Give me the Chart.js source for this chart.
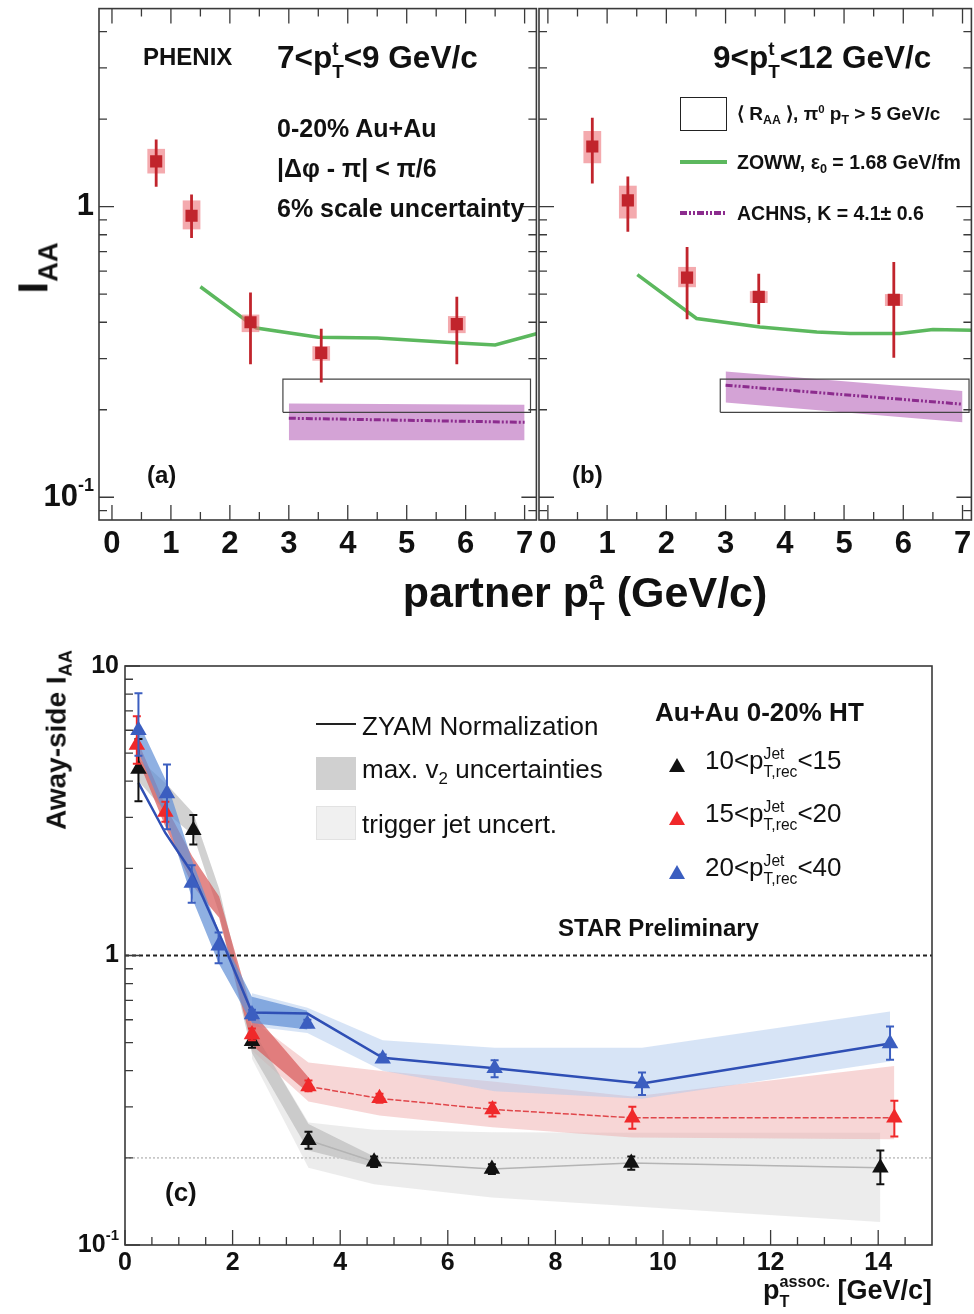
<!DOCTYPE html>
<html>
<head>
<meta charset="utf-8">
<script src="https://cdn.jsdelivr.net/npm/chart.js@4.4.0/dist/chart.umd.min.js"></script>
<style>
html, body { margin: 0; padding: 0; background: #fff; }
#page { position: relative; width: 974px; height: 1314px; overflow: hidden;
  font-family: "Liberation Sans", Arial, sans-serif; color: #111; }
canvas { position: absolute; }
.t { position: absolute; white-space: nowrap; line-height: 1.6; }
.sb { font-size: 0.65em; vertical-align: -0.35em; line-height: 1; }
.sp { font-size: 0.6em; vertical-align: 0.65em; line-height: 1; }
.ss { display: inline-block; vertical-align: -0.5em; font-size: 0.6em; line-height: 1.2; text-align: left; }
.sw { position: absolute; box-sizing: border-box; }
</style>
</head>
<body>
<div id="page">
  <canvas id="ca" width="545" height="560" style="left:0;top:0"></canvas>
  <canvas id="cb" width="480" height="560" style="left:500px;top:0"></canvas>
  <canvas id="cc" width="974" height="674" style="left:0;top:640px"></canvas>
</div>
<script>
// ---------- panel (a): 7 < pT(trig) < 9 GeV/c ----------
const aPt     = [0.75, 1.35, 2.35, 3.55, 5.85];
const aIaa    = [1.43, 0.93, 0.40, 0.314, 0.394];
const aStatLo = [1.17, 0.78, 0.287, 0.248, 0.287];
const aStatHi = [1.70, 1.10, 0.506, 0.38, 0.49];
const aSysLo  = [1.30, 0.835, 0.37, 0.295, 0.367];
const aSysHi  = [1.58, 1.05, 0.425, 0.331, 0.42];
const aZowwPt  = [1.5, 2.45, 3.5, 4.5, 5.8, 6.5, 7.2];
const aZowwIaa = [0.53, 0.382, 0.355, 0.353, 0.34, 0.334, 0.365];
const aAchnsPt  = [3.0, 7.0];
const aAchnsMid = [0.187, 0.181];
const aAchnsLo  = [0.157, 0.157];
const aAchnsHi  = [0.21, 0.208];
const aRaaPt = [2.9, 7.1];
const aRaa   = [0.196, 0.255];

// ---------- panel (b): 9 < pT(trig) < 12 GeV/c ----------
const bPt     = [0.75, 1.35, 2.35, 3.56, 5.84];
const bIaa    = [1.61, 1.05, 0.57, 0.489, 0.478];
const bStatLo = [1.20, 0.82, 0.41, 0.394, 0.302];
const bStatHi = [2.02, 1.27, 0.726, 0.587, 0.645];
const bSysLo  = [1.41, 0.91, 0.528, 0.466, 0.455];
const bSysHi  = [1.82, 1.18, 0.62, 0.512, 0.50];
const bZowwPt  = [1.51, 2.51, 3.58, 4.54, 5.1, 5.94, 6.5, 7.18];
const bZowwIaa = [0.583, 0.412, 0.385, 0.37, 0.366, 0.366, 0.378, 0.375];
const bAchnsPt  = [3.0, 7.0];
const bAchnsMid = [0.243, 0.209];
const bAchnsLo  = [0.212, 0.181];
const bAchnsHi  = [0.271, 0.232];
const bRaaPt = [2.91, 7.11];
const bRaa   = [0.196, 0.255];

// axis ticks, top panels
const abXLabels = [0, 1, 2, 3, 4, 5, 6, 7];
const abXMinor  = [0.5, 1.5, 2.5, 3.5, 4.5, 5.5, 6.5];
const abYMajor  = [0.1, 1];
const abYMinor  = [0.09, 0.2, 0.3, 0.4, 0.5, 0.6, 0.7, 0.8, 0.9, 2, 3, 4];

// ---------- panel (c): STAR away-side I_AA ----------
const cBlackPt  = [0.25, 1.27, 2.36, 3.41, 4.63, 6.82, 9.41, 14.04];
const cBlackIaa = [4.41, 2.71, 0.506, 0.23, 0.194, 0.183, 0.192, 0.185];
const cBlackLo  = [3.41, 2.42, 0.48, 0.215, 0.186, 0.176, 0.182, 0.162];
const cBlackHi  = [5.6, 3.06, 0.53, 0.246, 0.202, 0.19, 0.202, 0.212];

const cRedPt  = [0.22, 0.75, 2.36, 3.41, 4.73, 6.83, 9.43, 14.3];
const cRedIaa = [5.33, 3.13, 0.533, 0.353, 0.321, 0.294, 0.275, 0.275];
const cRedLo  = [4.6, 2.9, 0.51, 0.34, 0.31, 0.278, 0.252, 0.237];
const cRedHi  = [6.7, 3.4, 0.56, 0.37, 0.333, 0.31, 0.30, 0.315];

const cBluePt  = [0.25, 0.78, 1.24, 1.74, 2.36, 3.39, 4.79, 6.87, 9.61, 14.22];
const cBlueIaa = [6.0, 3.63, 1.78, 1.08, 0.625, 0.58, 0.44, 0.408, 0.361, 0.497];
const cBlueLo  = [4.9, 2.73, 1.52, 0.94, 0.6, 0.565, 0.43, 0.38, 0.33, 0.436];
const cBlueHi  = [8.05, 4.57, 2.05, 1.2, 0.65, 0.6, 0.455, 0.435, 0.394, 0.568];

// ZYAM normalization curves
const cBlueLinePt  = [0.25, 0.75, 1.24, 1.74, 2.36, 3.39, 4.79, 6.87, 9.61, 14.22];
const cBlueLineIaa = [3.95, 2.65, 1.94, 1.2, 0.636, 0.63, 0.443, 0.408, 0.361, 0.497];
const cRedLinePt   = [3.41, 4.73, 6.83, 9.43, 14.3];
const cRedLineIaa  = [0.353, 0.321, 0.294, 0.275, 0.275];
const cGrayLinePt  = [3.41, 4.63, 6.82, 9.41, 14.04];
const cGrayLineIaa = [0.23, 0.194, 0.183, 0.192, 0.185];

// max. v2 uncertainty bands
const cBlueSysPt = [0.25, 0.78, 1.24, 1.74, 2.36, 3.39];
const cBlueSysLo = [5.05, 2.94, 1.59, 0.94, 0.585, 0.555];
const cBlueSysHi = [6.4, 3.95, 2.15, 1.22, 0.72, 0.645];
const cRedSysPt  = [0.22, 0.75, 1.25, 1.75, 2.36, 3.41];
const cRedSysLo  = [4.85, 2.79, 1.75, 1.35, 0.49, 0.335];
const cRedSysHi  = [5.6, 3.3, 2.2, 1.6, 0.64, 0.38];
const cGraySysPt = [0.25, 0.78, 1.27, 1.75, 2.36, 3.41, 4.63];
const cGraySysLo = [4.0, 3.1, 2.6, 1.4, 0.46, 0.212, 0.186];
const cGraySysHi = [4.8, 3.9, 3.1, 1.7, 0.56, 0.262, 0.202];

// trigger jet uncertainty bands
const cBlueJetPt = [2.36, 3.39, 4.79, 6.87, 9.61, 14.22];
const cBlueJetLo = [0.57, 0.54, 0.40, 0.34, 0.32, 0.43];
const cBlueJetHi = [0.74, 0.66, 0.51, 0.48, 0.48, 0.64];
const cRedJetPt  = [2.36, 3.41, 4.73, 6.83, 9.43, 14.3];
const cRedJetLo  = [0.47, 0.313, 0.28, 0.255, 0.235, 0.232];
const cRedJetHi  = [0.6, 0.427, 0.40, 0.367, 0.326, 0.415];
const cGrayJetPt = [2.36, 3.41, 4.63, 6.82, 9.41, 14.04];
const cGrayJetLo = [0.44, 0.185, 0.162, 0.146, 0.136, 0.12];
const cGrayJetHi = [0.56, 0.265, 0.25, 0.245, 0.244, 0.244];

const cRefPt = [0, 15];
const cUnity = [1, 1];
const cFifth = [0.2, 0.2];

// axis ticks, bottom panel
const cXLabels = [0, 2, 4, 6, 8, 10, 12, 14];
const cXMinor  = [0.5, 1, 1.5, 2.5, 3, 3.5, 4.5, 5, 5.5, 6.5, 7, 7.5, 8.5, 9, 9.5,
                  10.5, 11, 11.5, 12.5, 13, 13.5, 14.5];
const cYMajor  = [0.1, 1, 10];
const cYMinor  = [0.2, 0.3, 0.4, 0.5, 0.6, 0.7, 0.8, 0.9, 2, 3, 4, 5, 6, 7, 8, 9];

const FONT = '"Liberation Sans", Arial, sans-serif';
const RED = '#c1242c', PINK = 'rgba(238,118,124,0.62)';
const GREEN = '#5cb85e', PURPLE = '#8c2c8e', LILAC = 'rgba(196,128,198,0.72)';

Chart.defaults.font.family = FONT;

const pts = (xs, ys) => xs.map((x, i) => ({ x, y: ys[i] }));
const line = (xs, ys, color, width, dash) => ({
  data: pts(xs, ys), borderColor: color, borderWidth: width, borderDash: dash || [], fill: false
});
const band = (xs, lo, hi, color) => [
  { data: pts(xs, lo), borderWidth: 0, fill: false },
  { data: pts(xs, hi), borderWidth: 0, fill: '-1', backgroundColor: color }
];
const box = (xs, ys) => ({
  data: [{ x: xs[0], y: ys[0] }, { x: xs[0], y: ys[1] }, { x: xs[1], y: ys[1] },
         { x: xs[1], y: ys[0] }, { x: xs[0], y: ys[0] }],
  borderColor: '#444', borderWidth: 1.2, fill: false
});

// error bars and systematic boxes, drawn just under the markers
const errorBars = {
  id: 'errorBars',
  beforeDatasetDraw(chart, args) {
    const ds = chart.data.datasets[args.index];
    if (!ds.errLo) return;
    const { ctx, chartArea: a, scales: { x, y } } = chart;
    ctx.save();
    ctx.beginPath();
    ctx.rect(a.left, a.top, a.width, a.height);
    ctx.clip();
    ds.data.forEach((p, i) => {
      const px = x.getPixelForValue(p.x);
      if (ds.sysLo) {
        const x0 = x.getPixelForValue(p.x - ds.sysHalf);
        const x1 = x.getPixelForValue(p.x + ds.sysHalf);
        const y0 = y.getPixelForValue(ds.sysHi[i]);
        const y1 = y.getPixelForValue(ds.sysLo[i]);
        ctx.fillStyle = ds.sysColor;
        ctx.fillRect(x0, y0, x1 - x0, y1 - y0);
      }
      const yl = y.getPixelForValue(ds.errLo[i]);
      const yh = y.getPixelForValue(ds.errHi[i]);
      ctx.strokeStyle = ds.errColor;
      ctx.lineWidth = ds.errWidth;
      ctx.beginPath();
      ctx.moveTo(px, yl);
      ctx.lineTo(px, yh);
      if (ds.cap) {
        ctx.moveTo(px - ds.cap, yl); ctx.lineTo(px + ds.cap, yl);
        ctx.moveTo(px - ds.cap, yh); ctx.lineTo(px + ds.cap, yh);
      }
      ctx.stroke();
    });
    ctx.restore();
  }
};

// ROOT-like frame: inward ticks and 10^n labels on the log axis
function rootFrame(t) {
  return {
    id: 'rootFrame',
    afterDraw(chart) {
      const { ctx, chartArea: a, scales: { x, y } } = chart;
      ctx.save();
      ctx.strokeStyle = '#3a3a3a';
      ctx.lineWidth = 1.3;
      ctx.beginPath();
      const xt = (v, len) => {
        const p = x.getPixelForValue(v);
        ctx.moveTo(p, a.bottom); ctx.lineTo(p, a.bottom - len);
        if (t.mirror) { ctx.moveTo(p, a.top); ctx.lineTo(p, a.top + len); }
      };
      const yt = (v, len) => {
        const p = y.getPixelForValue(v);
        ctx.moveTo(a.left, p); ctx.lineTo(a.left + len, p);
        if (t.mirror) { ctx.moveTo(a.right, p); ctx.lineTo(a.right - len, p); }
      };
      t.xMajor.forEach(v => xt(v, t.major));
      t.xMinor.forEach(v => xt(v, t.minor));
      t.yMajor.forEach(v => yt(v, t.major));
      t.yMinor.forEach(v => yt(v, t.minor));
      ctx.stroke();
      ctx.lineWidth = 1.6;
      ctx.strokeRect(a.left, a.top, a.right - a.left, a.bottom - a.top);

      ctx.fillStyle = '#111';
      ctx.textBaseline = 'middle';
      ctx.textAlign = 'right';
      t.yLabels.forEach(v => {
        const py = y.getPixelForValue(v);
        const xr = a.left - t.gap;
        if (v < 1) {
          ctx.font = `bold ${t.supSize}px ${FONT}`;
          ctx.fillText('-1', xr, py - t.supRise);
          const w = ctx.measureText('-1').width;
          ctx.font = `bold ${t.size}px ${FONT}`;
          ctx.fillText('10', xr - w, py);
        } else {
          ctx.font = `bold ${t.size}px ${FONT}`;
          ctx.fillText(String(v), xr, py);
        }
      });
      ctx.restore();
    }
  };
}

function scalesFor(o) {
  return {
    x: {
      type: 'linear', min: o.xMin, max: o.xMax,
      grid: { display: false, drawTicks: false }, border: { display: false },
      afterBuildTicks: s => { s.ticks = o.xLabels.map(v => ({ value: v })); },
      afterFit: s => { s.height = o.xHeight; },
      ticks: { font: { size: o.xFont, weight: 'bold' }, color: '#111', padding: o.xPad,
               maxRotation: 0, autoSkip: false }
    },
    y: {
      type: 'logarithmic', min: o.yMin, max: o.yMax,
      grid: { display: false, drawTicks: false }, border: { display: false },
      ticks: { display: false },
      afterFit: s => { s.width = o.yWidth; }
    }
  };
}

const baseOptions = (o) => ({
  responsive: false,
  animation: false,
  devicePixelRatio: 1,
  layout: { padding: o.padding },
  elements: { point: { radius: 0, hoverRadius: 0 }, line: { tension: 0 } },
  plugins: { legend: { display: false }, tooltip: { enabled: false } },
  scales: scalesFor(o)
});

function topChart(id, p, yWidth, padding, yLabels) {
  const datasets = [
    { data: pts(p.pt, p.iaa), showLine: false, pointStyle: 'rect', pointRadius: 8.6,
      pointBackgroundColor: RED, pointBorderColor: RED, pointBorderWidth: 0,
      errLo: p.statLo, errHi: p.statHi, sysLo: p.sysLo, sysHi: p.sysHi, sysHalf: 0.15,
      sysColor: PINK, errColor: RED, errWidth: 2.8, cap: 0 },
    box(p.raaPt, p.raa),
    line(p.zowwPt, p.zowwIaa, GREEN, 3.5),
    line(p.achnsPt, p.achnsMid, PURPLE, 3, [7, 2, 2, 2, 2, 2]),
    ...band(p.achnsPt, p.achnsLo, p.achnsHi, LILAC)
  ];
  return new Chart(document.getElementById(id), {
    type: 'line',
    data: { datasets },
    options: baseOptions({ xMin: p.xMin, xMax: p.xMax, yMin: 0.0835, yMax: 4.8,
      xLabels: abXLabels, xHeight: 40, xFont: 31, xPad: 6, yWidth, padding }),
    plugins: [errorBars, rootFrame({ mirror: true, major: 15, minor: 8,
      xMajor: abXLabels, xMinor: abXMinor, yMajor: abYMajor, yMinor: abYMinor,
      yLabels, gap: 5, size: 31, supSize: 18, supRise: 11 })]
  });
}

topChart('ca', { pt: aPt, iaa: aIaa, statLo: aStatLo, statHi: aStatHi, sysLo: aSysLo, sysHi: aSysHi,
  zowwPt: aZowwPt, zowwIaa: aZowwIaa, achnsPt: aAchnsPt, achnsMid: aAchnsMid,
  achnsLo: aAchnsLo, achnsHi: aAchnsHi, raaPt: aRaaPt, raa: aRaa, xMin: -0.22, xMax: 7.2 },
  99, { left: 0, top: 3, right: 0, bottom: 0 }, abYMajor);

topChart('cb', { pt: bPt, iaa: bIaa, statLo: bStatLo, statHi: bStatHi, sysLo: bSysLo, sysHi: bSysHi,
  zowwPt: bZowwPt, zowwIaa: bZowwIaa, achnsPt: bAchnsPt, achnsMid: bAchnsMid,
  achnsLo: bAchnsLo, achnsHi: bAchnsHi, raaPt: bRaaPt, raa: bRaa, xMin: -0.15, xMax: 7.15 },
  39, { left: 0, top: 3, right: 0, bottom: 0 }, []);

// bottom panel
const marker = (xs, ys, lo, hi, color) => ({
  data: pts(xs, ys), showLine: false, pointStyle: 'triangle', pointRadius: 9.5,
  pointBackgroundColor: color, pointBorderColor: color, pointBorderWidth: 0,
  errLo: lo, errHi: hi, errColor: color, errWidth: 2, cap: 4
});

new Chart(document.getElementById('cc'), {
  type: 'line',
  data: {
    datasets: [
      marker(cBluePt, cBlueIaa, cBlueLo, cBlueHi, '#3b5ec0'),
      marker(cRedPt, cRedIaa, cRedLo, cRedHi, '#f0282a'),
      marker(cBlackPt, cBlackIaa, cBlackLo, cBlackHi, '#111111'),
      line(cBlueLinePt, cBlueLineIaa, '#2f4fb5', 2.5),
      line(cRedLinePt, cRedLineIaa, '#e0464a', 1.5, [6, 2]),
      line(cGrayLinePt, cGrayLineIaa, '#b4b4b4', 1.5),
      line(cRefPt, cUnity, '#222', 1.8, [4, 3]),
      line(cRefPt, cFifth, '#c8c8c8', 1.6, [2, 2]),
      ...band(cBlueSysPt, cBlueSysLo, cBlueSysHi, 'rgba(100,145,215,0.72)'),
      ...band(cRedSysPt, cRedSysLo, cRedSysHi, 'rgba(216,92,92,0.72)'),
      ...band(cGraySysPt, cGraySysLo, cGraySysHi, 'rgba(190,190,190,0.7)'),
      ...band(cBlueJetPt, cBlueJetLo, cBlueJetHi, 'rgba(175,202,238,0.5)'),
      ...band(cRedJetPt, cRedJetLo, cRedJetHi, 'rgba(238,165,165,0.45)'),
      ...band(cGrayJetPt, cGrayJetLo, cGrayJetHi, 'rgba(218,218,218,0.5)')
    ]
  },
  options: baseOptions({ xMin: 0, xMax: 15, yMin: 0.1, yMax: 10, xLabels: cXLabels,
    xHeight: 69, xFont: 25, xPad: 3, yWidth: 125,
    padding: { left: 0, top: 26, right: 42, bottom: 0 } }),
  plugins: [errorBars, rootFrame({ mirror: false, major: 15, minor: 8,
    xMajor: cXLabels, xMinor: cXMinor, yMajor: cYMajor, yMinor: cYMinor,
    yLabels: cYMajor, gap: 6, size: 25, supSize: 15, supRise: 9 })]
});

// ---------- texts and legend samples ----------
const page = document.getElementById('page');
const ss = (sup, sub) => `<span class="ss">${sup}<br>${sub}</span>`;

function txt(html, x, cy, fs, o = {}) {
  const d = document.createElement('div');
  d.className = 't';
  d.innerHTML = html;
  d.style.fontSize = fs + 'px';
  d.style.fontWeight = o.bold ? 'bold' : 'normal';
  if (o.rot) {
    d.style.left = x + 'px';
    d.style.top = cy + 'px';
    d.style.transform = 'translate(-50%,-50%) rotate(-90deg)';
  } else {
    d.style.top = (cy - 0.79 * fs) + 'px';
    if (o.align === 'right') d.style.right = (974 - x) + 'px';
    else if (o.align === 'center') { d.style.left = x + 'px'; d.style.transform = 'translateX(-50%)'; }
    else d.style.left = x + 'px';
  }
  page.appendChild(d);
}
function swatch(x, y, w, h, css) {
  const d = document.createElement('div');
  d.className = 'sw';
  Object.assign(d.style, { left: x + 'px', top: y + 'px', width: w + 'px', height: h + 'px' }, css);
  page.appendChild(d);
}
const B = { bold: true };

txt('PHENIX', 143, 57, 24, B);
txt('7&lt;p' + ss('t', 'T') + '&lt;9 GeV/c', 277, 57, 31.5, B);
txt('0-20% Au+Au', 277, 128, 25, B);
txt('|Δφ - π| &lt; π/6', 277, 168, 25, B);
txt('6% scale uncertainty', 277, 208, 25, B);
txt('(a)', 147, 475, 24, B);
txt('(b)', 572, 475, 24, B);
txt('9&lt;p' + ss('t', 'T') + '&lt;12 GeV/c', 713, 57, 31.5, B);
txt('⟨ R<span class="sb">AA</span> ⟩, π<span class="sp">0</span> p<span class="sb">T</span> &gt; 5 GeV/c', 737, 114, 19, B);
txt('ZOWW, ε<span class="sb">0</span> = 1.68 GeV/fm', 737, 162, 19.5, B);
txt('ACHNS, K = 4.1± 0.6', 737, 213, 19.5, B);
swatch(680, 97, 47, 34, { border: '1.2px solid #222' });
swatch(680, 160, 47, 3.5, { background: GREEN });
swatch(680, 211, 47, 4, { background: `repeating-linear-gradient(90deg, ${PURPLE} 0 7px, transparent 7px 9px, ${PURPLE} 9px 11px, transparent 11px 13px, ${PURPLE} 13px 15px, transparent 15px 17px)` });
txt('I<span class="sb">AA</span>', 33, 268, 42, { bold: true, rot: true });
txt('partner p' + ss('a', 'T') + ' (GeV/c)', 585, 592, 43, { bold: true, align: 'center' });

txt('Away-side I<span class="sb">AA</span>', 57, 740, 28, { bold: true, rot: true });
txt('p' + ss('assoc.', 'T') + ' [GeV/c]', 932, 1290, 27, { bold: true, align: 'right' });
txt('(c)', 165, 1193, 26, B);
txt('STAR Preliminary', 558, 928, 24, B);
txt('Au+Au 0-20% HT', 655, 713, 26, B);
txt('ZYAM Normalization', 362, 727, 26);
txt('max. v<span class="sb">2</span> uncertainties', 362, 770, 26);
txt('trigger jet uncert.', 362, 825, 26);
txt('10&lt;p' + ss('Jet', 'T,rec') + '&lt;15', 705, 761, 26);
txt('15&lt;p' + ss('Jet', 'T,rec') + '&lt;20', 705, 814, 26);
txt('20&lt;p' + ss('Jet', 'T,rec') + '&lt;40', 705, 868, 26);
swatch(316, 723, 40, 2, { background: '#222' });
swatch(316, 757, 40, 33, { background: 'rgb(208,208,208)' });
swatch(316, 806, 40, 34, { background: 'rgb(240,240,240)', border: '1px solid #e2e2e2' });
const tri = { clipPath: 'polygon(50% 0, 100% 100%, 0 100%)' };
swatch(669, 758, 16, 14, Object.assign({ background: '#111' }, tri));
swatch(669, 811, 16, 14, Object.assign({ background: '#f0282a' }, tri));
swatch(669, 865, 16, 14, Object.assign({ background: '#3b5ec0' }, tri));
</script>
</body>
</html>
